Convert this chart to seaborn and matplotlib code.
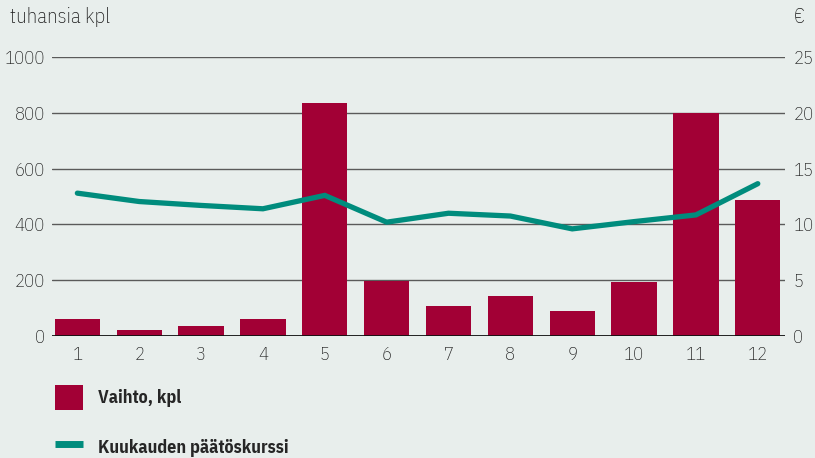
import matplotlib
matplotlib.use("Agg")
import matplotlib.pyplot as plt
from matplotlib import font_manager as fm
from matplotlib.patches import Patch
from matplotlib.lines import Line2D
import numpy as np
import pandas as pd
import seaborn as sns

# Monthly data
months = ["1", "2", "3", "4", "5", "6", "7", "8", "9", "10", "11", "12"]
volume_k = [61, 21, 37, 61, 835, 198, 108, 143, 90, 194, 800, 486]      # tuhansia kpl
close_eur = [12.8, 12.05, 11.7, 11.4, 12.6, 10.2, 11.0, 10.75, 9.6, 10.25, 10.85, 13.65]  # €

left_ticks = [0, 200, 400, 600, 800, 1000]
right_ticks = [0, 5, 10, 15, 20, 25]

BG = "#e8eeec"
BAR = "#a20035"
TEAL = "#008c7d"
GRID = "#5a5a5a"
INK = "#1a1a1a"


def pick_font(candidates):
    for name in candidates:
        try:
            fm.findfont(fm.FontProperties(family=name), fallback_to_default=False)
            return name
        except ValueError:
            continue
    return "DejaVu Sans"


narrow = pick_font(["IBM Plex Sans Condensed", "Roboto Condensed",
                    "Liberation Sans Narrow", "DejaVu Sans"])
FS = 13.5 if narrow != "DejaVu Sans" else 11

sns.set_theme(style="white")
plt.rcParams["font.family"] = [narrow, "DejaVu Sans"]

df = pd.DataFrame({"kk": months, "vaihto": volume_k, "kurssi": close_eur,
                   "pos": np.arange(len(months))})

fig = plt.figure(figsize=(8.15, 4.58), dpi=100, facecolor=BG)
ax = fig.add_axes([0.0638, 0.2664, 0.8994, 0.6091])
ax.set_facecolor(BG)

sns.barplot(data=df, x="kk", y="vaihto", color=BAR, width=0.73,
            saturation=1, edgecolor="none", ax=ax, zorder=2)
ax.set_ylim(0, 1000)
ax.set_xlim(-0.41, 11.44)
ax.set_yticks(left_ticks)
ax.set_xlabel("")
ax.set_ylabel("")
for v in left_ticks[1:]:
    ax.axhline(v, color=GRID, lw=1.0, zorder=1)

ax2 = ax.twinx()
sns.lineplot(data=df, x="pos", y="kurssi", color=TEAL, lw=3.8, ax=ax2,
             zorder=3, solid_joinstyle="miter")
ax2.set_ylim(0, 25)
ax2.set_yticks(right_ticks)
ax2.set_xlim(-0.41, 11.44)
ax2.set_xlabel("")
ax2.set_ylabel("")

for a in (ax, ax2):
    for s in ("top", "left", "right", "bottom"):
        a.spines[s].set_visible(False)
    a.tick_params(length=0, labelsize=FS, colors=INK)
    for lab in a.get_xticklabels() + a.get_yticklabels():
        lab.set_fontweight("light")
ax.axhline(0, color="#111111", lw=1.3, zorder=4)
ax.tick_params(axis="y", pad=5)
ax.tick_params(axis="x", pad=7)
ax2.tick_params(axis="y", pad=6)

fig.text(0.012, 0.962, "tuhansia kpl", fontsize=FS + 1.5, color=INK, va="center",
         ha="left", fontweight="light")
fig.text(0.981, 0.962, "€", fontsize=FS + 1, color=INK, va="center", ha="center",
         fontweight="light")

handles = [Patch(facecolor=BAR, edgecolor="none"),
           Line2D([0], [0], color=TEAL, lw=5, solid_capstyle="butt")]
fig.legend(handles, ["Vaihto, kpl", "Kuukauden päätöskurssi"],
           loc="upper left", bbox_to_anchor=(55 / 815, 1 - 385 / 458),
           frameon=False, borderpad=0, borderaxespad=0,
           handlelength=1.55, handleheight=1.75, handletextpad=0.85,
           labelspacing=1.35, prop={"family": narrow, "weight": "bold", "size": 13})

fig.savefig("out.png", dpi=100, facecolor=BG)
